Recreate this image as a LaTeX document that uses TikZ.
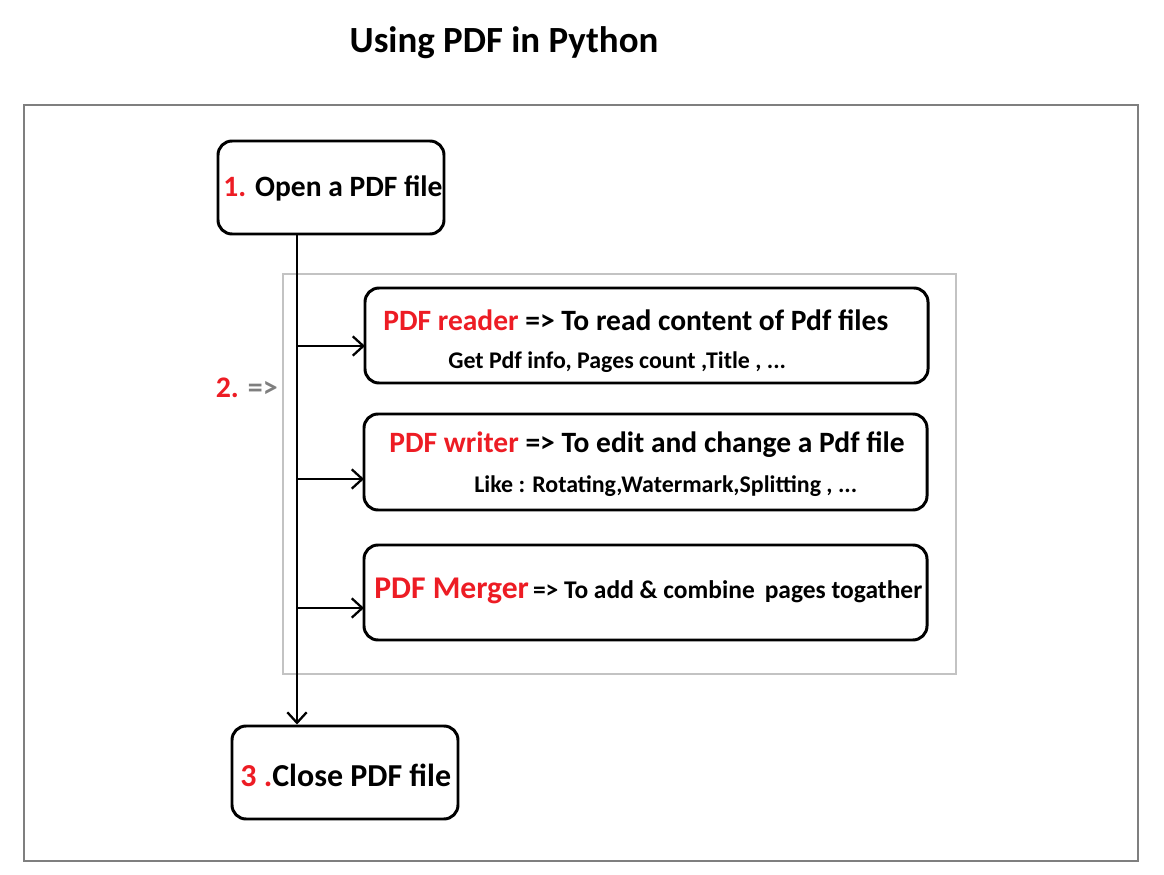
\documentclass[tikz,border=0pt]{standalone}
\usepackage{fontspec}
\setmainfont{Carlito}
\usetikzlibrary{arrows.meta}
\definecolor{pdfred}{HTML}{ED1C24}
\definecolor{framegray}{HTML}{7F7F7F}
\definecolor{groupgray}{HTML}{C3C3C3}

\begin{document}
\begin{tikzpicture}[x=0.02cm, y=-0.02cm, font=\bfseries,
    >={Straight Barb[length=6pt,width=11pt,line width=1.3pt]},
    stepbox/.style={draw, line width=1.7pt, rounded corners=8pt, inner sep=0pt},
    flow/.style={line width=1.4pt},
    big/.style={font=\bfseries\fontsize{16.8}{18}\selectfont},
    small/.style={font=\bfseries\fontsize{13.6}{15}\selectfont}]
    \useasboundingbox (0,0) rectangle (1164,875);

    % Frames
    \draw[framegray, line width=1.3pt] (24,105) rectangle (1138,861);
    \draw[groupgray, line width=1.3pt] (283,274) rectangle (956,674);

    % Title
    \node[anchor=base, font=\bfseries\fontsize{21}{24}\selectfont] (title) at (504,53) {Using PDF in Python};

    % Open and close
    \node[stepbox, minimum width=226*0.02cm, minimum height=93*0.02cm] (open) at (331,187.5) {};
    \node[big, anchor=base, inner sep=0pt] (opentxt) at (333,196) {\textcolor{pdfred}{1.} Open a PDF file};
    \node[stepbox, minimum width=226*0.02cm, minimum height=93*0.02cm] (close) at (345,772.5) {};
    \node[anchor=base west, inner sep=0pt, font=\bfseries\fontsize{18.2}{20}\selectfont] (closetxt) at (240,786) {\textcolor{pdfred}{3 .}Close PDF file};

    % Reader, writer, merger
    \node[stepbox, minimum width=563*0.02cm, minimum height=95*0.02cm] (reader) at (646.5,335.5) {};
    \node[big, anchor=base west, inner sep=0pt] (readertxt) at (383,330) {\textcolor{pdfred}{PDF reader} => To read content of Pdf files};
    \node[small, anchor=base west, inner sep=0pt] (readersub) at (448,368) {Get Pdf info, Pages count ,Title , ...};

    \node[stepbox, minimum width=563*0.02cm, minimum height=96*0.02cm] (writer) at (645.5,462) {};
    \node[big, anchor=base west, inner sep=0pt] (writertxt) at (389,452) {\textcolor{pdfred}{PDF writer} => To edit and change a Pdf file};
    \node[small, anchor=base west, inner sep=0pt] (writersub) at (474,492) {Like : Rotating,Watermark,Splitting , ...};

    \node[stepbox, minimum width=563*0.02cm, minimum height=95*0.02cm] (merger) at (645.5,592.5) {};
    \node[anchor=base west, inner sep=0pt] (mergertxt) at (374,598) {{\fontsize{18}{20}\selectfont\textcolor{pdfred}{PDF Merger}} {\fontsize{14.5}{16}\selectfont => To add \& combine\, pages togather}};

    % Step 2 label
    \node[anchor=base east, inner sep=0pt, font=\bfseries\fontsize{17}{19}\selectfont] (two) at (278,397) {\textcolor{pdfred}{2.} \textcolor{framegray}{=>}};

    % Connectors
    \coordinate (spine) at (297,0);
    \coordinate (readerin) at (365,346);
    \coordinate (writerin) at (364,479);
    \coordinate (mergerin) at (364,608);
    \draw[flow, ->] (open.south -| spine) -- (close.north -| spine);
    \draw[flow, ->] (readerin -| spine) -- (readerin);
    \draw[flow, ->] (writerin -| spine) -- (writerin);
    \draw[flow, ->] (mergerin -| spine) -- (mergerin);
\end{tikzpicture}
\end{document}
